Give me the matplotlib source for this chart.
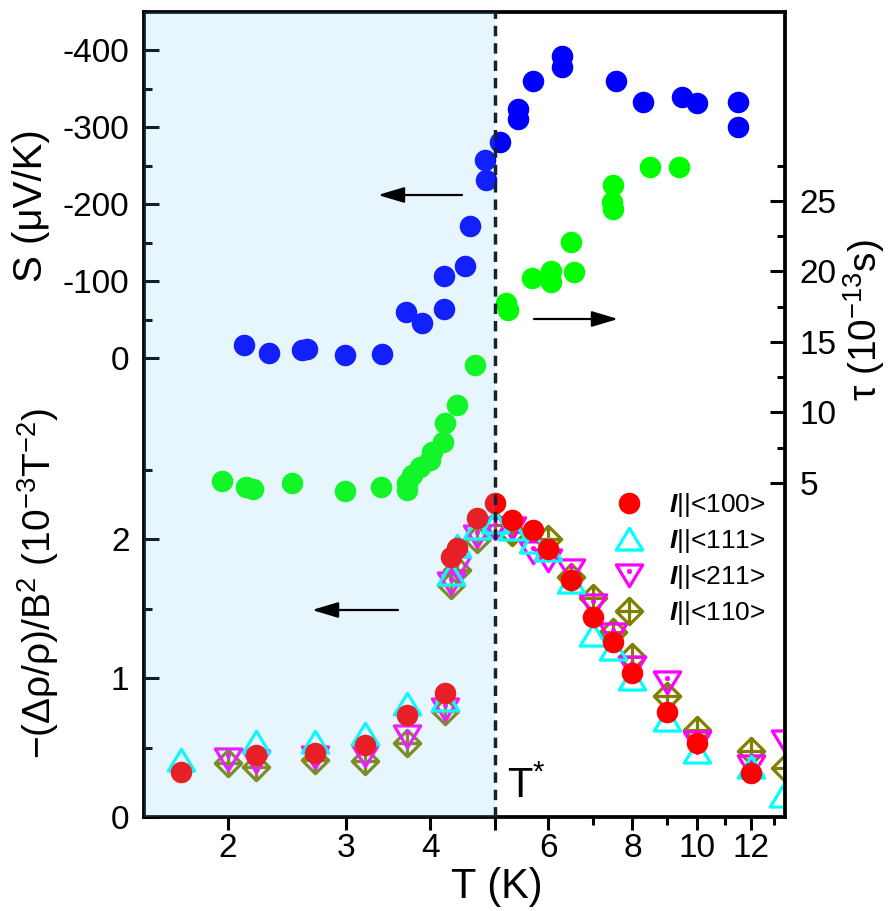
import matplotlib
matplotlib.use('Agg')
import matplotlib.pyplot as plt
from matplotlib.path import Path
from matplotlib.ticker import FixedLocator, FixedFormatter, NullFormatter

plt.rcParams['font.family'] = ['Liberation Sans', 'DejaVu Sans']
plt.rcParams['mathtext.fontset'] = 'custom'
plt.rcParams['mathtext.rm'] = 'Liberation Sans'
plt.rcParams['mathtext.it'] = 'Liberation Sans:italic'
plt.rcParams['mathtext.bf'] = 'Liberation Sans:bold'
plt.rcParams['mathtext.bfit'] = 'Liberation Sans:bold:italic'
plt.rcParams['axes.unicode_minus'] = False

# ---------------- data ----------------
# Thermopower S (uV/K), left upper scale
T_S = [2.11, 2.30, 2.58, 2.62, 2.99, 3.39, 3.68, 3.89, 4.19, 4.20, 4.50, 4.59,
       4.82, 4.84, 5.09, 5.40, 5.40, 5.70, 6.29, 6.29, 7.57, 8.29, 9.49, 10.0,
       11.5, 11.5]
S = [-17, -7, -11, -12, -4, -5, -60, -46, -106, -64, -119, -171,
     -257, -231, -281, -323, -310, -360, -392, -378, -360, -333, -339, -331,
     -333, -300]

# Scattering time tau (1e-13 s), right scale
T_tau = [1.96, 2.13, 2.18, 2.49, 2.99, 3.38, 3.69, 3.70, 3.76, 3.86, 4.00, 4.02,
         4.18, 4.21, 4.39, 4.67, 5.19, 5.22, 5.67, 6.05, 6.05, 6.49, 6.54, 7.46,
         7.48, 7.48, 8.50, 9.39]
tau = [5.14, 4.74, 4.55, 5.02, 4.45, 4.74, 4.50, 4.98, 5.57, 6.16, 6.63, 7.22,
       7.93, 9.27, 10.53, 13.37, 17.74, 17.27, 19.56, 20.05, 19.28, 22.10, 19.99, 24.9,
       26.1, 24.4, 27.4, 27.4]

# Magnetoresistance -(drho/rho)/B^2 (1e-3 T^-2), left lower scale
T_100 = [1.70, 2.20, 2.70, 3.20, 3.70, 4.21, 4.30, 4.39, 4.70, 5.00, 5.30, 5.70,
         6.00, 6.49, 7.00, 7.48, 8.00, 9.00, 10.0, 12.0]
MR_100 = [0.326, 0.446, 0.458, 0.518, 0.734, 0.89, 1.873, 1.937, 2.149, 2.257, 2.137, 2.065,
          1.926, 1.705, 1.44, 1.257, 1.038, 0.758, 0.53, 0.319]

T_111 = [1.70, 2.20, 2.70, 3.20, 3.70, 4.21, 4.30, 4.39, 4.70, 5.00, 5.30, 5.70,
         6.00, 6.49, 7.00, 7.48, 8.00, 9.00, 10.0, 12.0, 13.4]
MR_111 = [0.41, 0.54, 0.54, 0.60, 0.81, 0.84, 1.75, 1.95, 2.08, 2.12, 2.07, 1.98,
          1.92, 1.69, 1.31, 1.21, 0.99, 0.70, 0.47, 0.36, 0.15]

T_211 = [2.00, 2.20, 2.70, 3.20, 3.70, 4.21, 4.30, 4.39, 4.70, 5.00, 5.30, 5.70,
         6.00, 6.49, 7.00, 7.48, 8.00, 9.00, 10.0, 12.0, 13.5]
MR_211 = [0.415, 0.40, 0.43, 0.446, 0.58, 0.78, 1.68, 1.80, 2.02, 2.08, 2.08, 1.91,
          1.85, 1.78, 1.525, 1.32, 1.08, 0.97, 0.54, 0.37, 0.55]

T_110 = [2.00, 2.20, 2.70, 3.20, 3.70, 4.21, 4.30, 4.39, 4.70, 5.00, 5.30, 6.00,
         6.49, 7.00, 7.48, 8.00, 9.00, 10.0, 12.0, 13.5]
MR_110 = [0.386, 0.36, 0.41, 0.40, 0.53, 0.76, 1.67, 1.78, 2.00, 2.10, 2.05, 2.00,
          1.73, 1.573, 1.333, 1.153, 0.87, 0.626, 0.477, 0.35]

legend_labels = [r'$\mathbfit{I}$||<100>', r'$\mathbfit{I}$||<111>',
                 r'$\mathbfit{I}$||<211>', r'$\mathbfit{I}$||<110>']

x_ticks = [2, 3, 4, 5, 6, 8, 10, 12]
x_ticklabels = ['2', '3', '4', '', '6', '8', '10', '12']
x_minor = [7, 9, 11, 13]
S_ticks = [0, -100, -200, -300, -400]
S_minor = [-50, -150, -250, -350]
MR_ticks = [0, 1, 2]
MR_minor = [0.5, 1.5, 2.5]
tau_ticks = [5, 10, 15, 20, 25]
tau_minor = [7.5, 12.5, 17.5, 22.5, 27.5]
T_star = 5.0

# ---------------- figure ----------------
W, H = 893, 911
fig = plt.figure(figsize=(W / 100, H / 100), dpi=100)
L, R, B, TOP = 144, 785, 817, 12
ax = fig.add_axes([L / W, 1 - B / H, (R - L) / W, (B - TOP) / H])

ax.set_xscale('log')
ax.set_xlim(1.5, 13.5)
ax.set_ylim(0, 805 / 139)

ax_S = ax.twinx()
ax_S.yaxis.set_ticks_position('left')
ax_S.set_ylim(596.1, -449.4)
ax_tau = ax.twinx()
ax_tau.set_ylim(-18.69, 38.40)

# custom markers
up_tri = Path([(-1, -0.8), (1, -0.8), (0, 0.85), (-1, -0.8)],
              [Path.MOVETO, Path.LINETO, Path.LINETO, Path.CLOSEPOLY])
d = 0.06
tri_dot = Path([(-1, 0.8), (1, 0.8), (0, -0.85), (-1, 0.8),
                (-d, 0.3 - d), (d, 0.3 - d), (d, 0.3 + d), (-d, 0.3 + d), (-d, 0.3 - d)],
               [Path.MOVETO, Path.LINETO, Path.LINETO, Path.CLOSEPOLY,
                Path.MOVETO, Path.LINETO, Path.LINETO, Path.LINETO, Path.CLOSEPOLY])
dia_cross = Path([(0, 1), (1, 0), (0, -1), (-1, 0), (0, 1),
                  (0, 1), (0, -1), (-1, 0), (1, 0)],
                 [Path.MOVETO, Path.LINETO, Path.LINETO, Path.LINETO, Path.CLOSEPOLY,
                  Path.MOVETO, Path.LINETO, Path.MOVETO, Path.LINETO])

ow = dict(ls='none', mfc='none', mew=2.3)
h_o, = ax.plot(T_110, MR_110, marker=dia_cross, ms=19, mec='#808000', **ow)
h_m, = ax.plot(T_211, MR_211, marker=tri_dot, ms=19, mec='#FF00FF', **ow)
h_c, = ax.plot(T_111, MR_111, marker=up_tri, ms=19, mec='#00FFFF', **ow)
h_r, = ax.plot(T_100, MR_100, ls='none', marker='o', ms=15.5, mfc='#FF0000', mec='none')

ax_S.plot(T_S, S, ls='none', marker='o', ms=15.5, mfc='#0000FF', mec='none')
ax_tau.plot(T_tau, tau, ls='none', marker='o', ms=15.5, mfc='#00FF00', mec='none')

# shading (semi-transparent overlay) and T* line
ax_tau.axvspan(1.0, T_star, color='#73C8F8', alpha=0.165, lw=0, zorder=10)
ax_tau.axvline(T_star, color='#18222C', lw=2.5, ls=(0, (3, 2)), zorder=12)

# ticks
ax.xaxis.set_major_locator(FixedLocator(x_ticks))
ax.xaxis.set_major_formatter(FixedFormatter(x_ticklabels))
ax.xaxis.set_minor_locator(FixedLocator(x_minor))
ax.xaxis.set_minor_formatter(NullFormatter())
ax.yaxis.set_major_locator(FixedLocator(MR_ticks))
ax.yaxis.set_minor_locator(FixedLocator(MR_minor))
ax_S.yaxis.set_major_locator(FixedLocator(S_ticks))
ax_S.yaxis.set_minor_locator(FixedLocator(S_minor))
ax_tau.yaxis.set_major_locator(FixedLocator(tau_ticks))
ax_tau.yaxis.set_minor_locator(FixedLocator(tau_minor))

tw = 2.2
ax.tick_params(axis='x', which='major', direction='out', length=9.5, width=tw, pad=2,
               labelsize=24, top=False)
ax.tick_params(axis='x', which='minor', direction='out', length=5.5, width=tw, top=False)
ax.tick_params(axis='y', which='major', direction='in', length=10.5, width=tw, pad=10.5,
               labelsize=24, right=False)
ax.tick_params(axis='y', which='minor', direction='in', length=6, width=tw, right=False)
for a in (ax_S,):
    a.tick_params(axis='y', which='major', direction='in', length=10.5, width=tw, pad=10.5,
                  labelsize=24, left=True, right=False, labelleft=True, labelright=False)
    a.tick_params(axis='y', which='minor', direction='in', length=6, width=tw,
                  left=True, right=False)
ax_tau.tick_params(axis='y', which='major', direction='in', length=10.5, width=tw, pad=10.5,
                   labelsize=24, left=False, right=True)
ax_tau.tick_params(axis='y', which='minor', direction='in', length=6, width=tw,
                   left=False, right=True)

for a in (ax_S, ax_tau):
    for sp in a.spines.values():
        sp.set_visible(False)
for sp in ax.spines.values():
    sp.set_linewidth(2.7)
    sp.set_color('black')

# arrows
def arrow(tail, head):
    ax_tau.annotate('', xy=head, xytext=tail, xycoords='axes fraction',
                    textcoords='axes fraction', zorder=13,
                    arrowprops=dict(arrowstyle='-|>,head_length=1.0,head_width=0.3',
                                    mutation_scale=16, lw=1.6, color='black',
                                    shrinkA=0, shrinkB=0))

def fx(px):
    return (px - L) / (R - L)

def fy(py):
    return (B - py) / (B - TOP)

arrow((fx(462), fy(195)), (fx(378), fy(195)))
arrow((fx(534), fy(319)), (fx(618), fy(319)))
arrow((fx(398), fy(610)), (fx(312), fy(610)))

ax_tau.text(fx(507), fy(798), r'T$^{*}$', transform=ax.transAxes, fontsize=30,
            ha='left', va='baseline', zorder=14)

# legend
leg = ax_tau.legend([h_r, h_c, h_m, h_o], legend_labels, loc='upper left',
                    bbox_to_anchor=(fx(616), fy(491)), frameon=False, fontsize=19,
                    handlelength=1.0, handletextpad=1.0, labelspacing=0.3,
                    borderpad=0, borderaxespad=0, numpoints=1)
leg.set_zorder(20)

# axis labels
fig.text(31 / W, 1 - 206 / H, 'S (μV/K)', rotation=90, fontsize=29,
         ha='center', va='center')
fig.text(38 / W, 1 - 584 / H, '−(Δρ/ρ)/B$^{2}$ (10$^{-3}$T$^{-2}$)', rotation=90,
         fontsize=28, ha='center', va='center')
fig.text(497 / W, 1 - 887 / H, 'T (K)', fontsize=30, ha='center', va='center')
fig.text(864 / W, 1 - 320 / H, 'τ (10$^{-13}$s)', rotation=90, fontsize=28,
         ha='center', va='center')

fig.savefig('out.png', dpi=100)
